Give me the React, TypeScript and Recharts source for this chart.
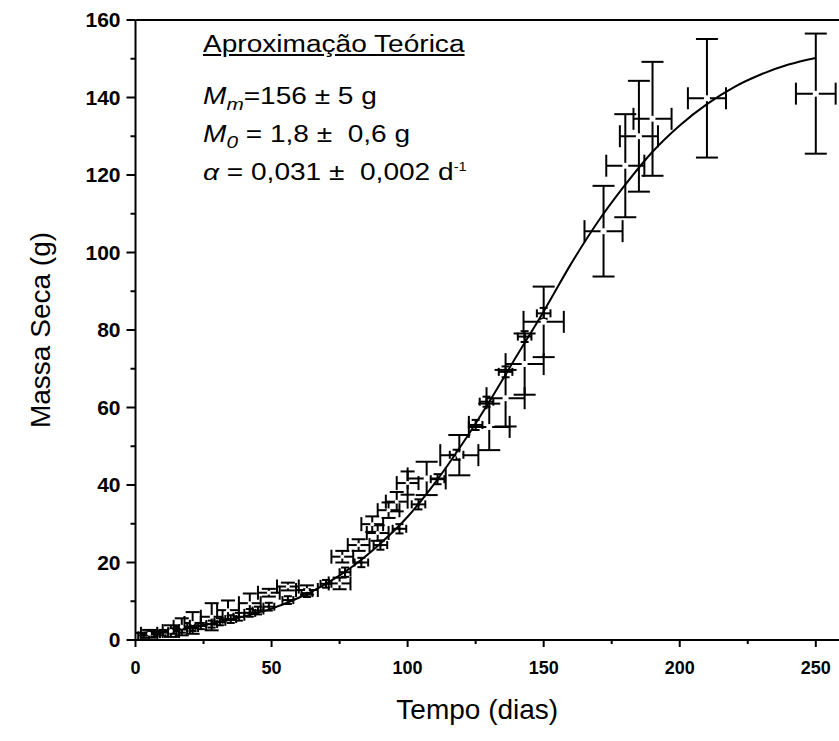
import React from 'react';
import { ComposedChart, Line, Scatter, XAxis, YAxis, ErrorBar, ReferenceLine } from 'recharts';

// curva teórica
const curveDays = [0, 10, 20, 30, 40, 50, 60, 70, 80, 90, 100, 110, 120, 130, 140, 150, 160, 170, 180, 190, 200, 210, 220, 230, 240, 250];
const curveMass = [1.8, 2.4, 3.3, 4.5, 6.1, 8.1, 10.9, 14.5, 19.1, 24.9, 31.8, 40.5, 50.5, 61.5, 73.2, 84.8, 97, 108, 117.5, 126, 132.8, 138.3, 142.7, 146, 148.5, 150.2];

// medidas com barras pequenas (sobre a curva)
const nearDays = [3, 7, 10, 14, 17, 21, 24, 28, 31, 35, 38, 42, 45, 49, 56, 63, 70, 77, 83, 90, 97, 104, 111, 118, 125, 129, 136, 143, 150];
const nearMass = [1.2, 1.5, 1.9, 2.3, 2.7, 3.1, 3.6, 4.1, 4.7, 5.4, 6.0, 7.0, 7.6, 8.6, 10.3, 12.1, 14.5, 17.5, 20.0, 24.5, 28.7, 35.0, 41.5, 47.8, 55.5, 61.5, 69.2, 78.3, 84.3];
const nearDayErr = [2, 2, 2, 2, 2, 2, 2, 2, 2, 2, 2, 2, 2, 2, 2, 2, 2, 2, 2.5, 2.5, 2.5, 2.5, 2.5, 2.5, 2.5, 2.5, 2.5, 2.5, 2.5];
const nearMassErr = [0.6, 0.6, 0.7, 0.7, 0.8, 0.8, 0.8, 0.9, 0.9, 1, 1, 1, 1, 1, 1, 1, 1, 1.2, 1.2, 1.2, 1.2, 1.3, 1.3, 1.3, 1.3, 1.3, 1.4, 1.4, 1.4];

// medidas iniciais deslocadas da curva
const midDays = [5, 13, 17, 21, 28, 34, 42, 49, 56, 63, 75, 76, 82, 87, 89, 93, 96, 100];
const midMass = [1.6, 2.3, 3.4, 4.4, 6.0, 7.7, 9.5, 12.2, 13.8, 12.9, 14.6, 21.5, 24.5, 29.9, 27.6, 33.5, 35.7, 40.5];
const midDayErr = [3, 3, 3, 3, 4, 4, 4, 4, 4, 4, 4, 4, 4, 4, 4, 4, 4, 4];
const midMassErr = [1, 1.5, 2.2, 2.8, 3.5, 2.5, 2.5, 1, 1, 1.2, 1.5, 1.5, 1.5, 2, 2, 2, 2.5, 3];

// medidas finais com barras grandes
const wideDays = [107, 119, 130, 136, 143, 150, 172, 180, 185, 190, 210, 250];
const wideMass = [41.7, 47.7, 55, 62.4, 71.2, 82.1, 105.5, 122.4, 130, 134.5, 139.8, 141];
const wideDayErr = [7, 7, 7.5, 7, 7, 7.4, 7, 7, 7, 7, 7, 7.3];
const wideMassErr = [4.3, 5.2, 6, 7.3, 7.9, 9.1, 11.7, 13.3, 14.3, 14.7, 15.3, 15.5];

const xTicks = [0, 25, 50, 75, 100, 125, 150, 175, 200, 225, 250];
const xLabels = [0, 50, 100, 150, 200, 250];
const yTicks = [0, 10, 20, 30, 40, 50, 60, 70, 80, 90, 100, 110, 120, 130, 140, 150, 160];
const yLabels = [0, 20, 40, 60, 80, 100, 120, 140, 160];

const curveData = curveDays.map((t, i) => ({ t, m: curveMass[i] }));
const nearData = nearDays.map((t, i) => ({ t, m: nearMass[i], ex: nearDayErr[i], ey: nearMassErr[i] }));
const midData = midDays.map((t, i) => ({ t, m: midMass[i], ex: midDayErr[i], ey: midMassErr[i] }));
const wideData = wideDays.map((t, i) => ({ t, m: wideMass[i], ex: wideDayErr[i], ey: wideMassErr[i] }));

const FONT = '"Liberation Sans", Arial, sans-serif';

function XTick({ x, y, payload }: any) {
  const major = xLabels.includes(payload.value);
  return (
    <g>
      <line x1={x} x2={x} y1={y} y2={y + (major ? 7 : 4)} stroke="#000" strokeWidth={2} />
      {major && (
        <text x={x} y={y + 34} textAnchor="middle" fontFamily={FONT} fontWeight="bold" fontSize={18} fill="#000">
          {payload.value}
        </text>
      )}
    </g>
  );
}

function YTick({ x, y, payload }: any) {
  const major = yLabels.includes(payload.value);
  return (
    <g>
      <line x1={x - (major ? 9 : 5)} x2={x} y1={y} y2={y} stroke="#000" strokeWidth={2} />
      {major && (
        <text x={x - 15} y={y + 7} textAnchor="end" fontFamily={FONT} fontWeight="bold" fontSize={21} fill="#000">
          {payload.value}
        </text>
      )}
    </g>
  );
}

const whiteDot = (p: any) => <circle cx={p.cx} cy={p.cy} r={3} fill="#fff" />;
const smallWhiteDot = (p: any) => <circle cx={p.cx} cy={p.cy} r={2} fill="#fff" />;
const blackDot = (p: any) => <circle cx={p.cx} cy={p.cy} r={1.5} fill="#000" />;

export default function App() {
  return (
    <div style={{ position: 'absolute', left: 0, top: 0, width: 839, height: 741, overflow: 'hidden', background: '#fff' }}>
      <ComposedChart width={850} height={741} margin={{ top: 20, right: 7, left: 0, bottom: 0 }}>
        <XAxis
          dataKey="t"
          type="number"
          domain={[0, 260]}
          allowDataOverflow
          ticks={xTicks}
          interval={0}
          tickSize={0}
          tickMargin={0}
          tickLine={false}
          tick={<XTick />}
          height={101}
          axisLine={{ stroke: '#000', strokeWidth: 2 }}
          label={{ value: 'Tempo (dias)', position: 'insideBottom', offset: 22, dx: -12, fontSize: 28, fontFamily: FONT, fill: '#000' }}
        />
        <YAxis
          dataKey="m"
          type="number"
          domain={[0, 160]}
          allowDataOverflow
          ticks={yTicks}
          interval={0}
          tickSize={0}
          tickMargin={0}
          tickLine={false}
          tick={<YTick />}
          width={135.5}
          axisLine={{ stroke: '#000', strokeWidth: 2 }}
          label={{ value: 'Massa Seca (g)', angle: -90, position: 'insideLeft', offset: 40, fontSize: 28, fontFamily: FONT, fill: '#000', style: { textAnchor: 'middle' } }}
        />
        <ReferenceLine y={160} stroke="#000" strokeWidth={2} />
        <Line data={curveData} dataKey="m" type="monotone" stroke="#000" strokeWidth={2} dot={false} isAnimationActive={false} />
        <Scatter data={nearData} dataKey="m" shape={blackDot} isAnimationActive={false}>
          <ErrorBar dataKey="ey" direction="y" width={4} stroke="#000" strokeWidth={2} />
          <ErrorBar dataKey="ex" direction="x" width={4} stroke="#000" strokeWidth={2} />
        </Scatter>
        <Scatter data={midData} dataKey="m" shape={smallWhiteDot} isAnimationActive={false}>
          <ErrorBar dataKey="ey" direction="y" width={7} stroke="#000" strokeWidth={2} />
          <ErrorBar dataKey="ex" direction="x" width={7} stroke="#000" strokeWidth={2} />
        </Scatter>
        <Scatter data={wideData} dataKey="m" shape={whiteDot} isAnimationActive={false}>
          <ErrorBar dataKey="ey" direction="y" width={11} stroke="#000" strokeWidth={2} />
          <ErrorBar dataKey="ex" direction="x" width={11} stroke="#000" strokeWidth={2} />
        </Scatter>
      </ComposedChart>
      <div style={{ position: 'absolute', left: 203, top: 33, fontFamily: FONT, fontSize: 23, color: '#000', lineHeight: 1, transform: 'scaleX(1.22)', transformOrigin: 'left top', whiteSpace: 'nowrap' }}>
        <div style={{ textDecoration: 'underline' }}>Aproximação Teórica</div>
        <div style={{ position: 'absolute', top: 52 }}>
          <i>M</i><sub style={{ fontStyle: 'italic', fontSize: 17 }}>m</sub>=156 ± 5 g
        </div>
        <div style={{ position: 'absolute', top: 90 }}>
          <i>M</i><sub style={{ fontStyle: 'italic', fontSize: 17 }}>0</sub> = 1,8 ±&nbsp; 0,6 g
        </div>
        <div style={{ position: 'absolute', top: 128 }}>
          <i>α</i> = 0,031 ±&nbsp; 0,002 d<sup style={{ fontSize: 12 }}>-1</sup>
        </div>
      </div>
    </div>
  );
}
